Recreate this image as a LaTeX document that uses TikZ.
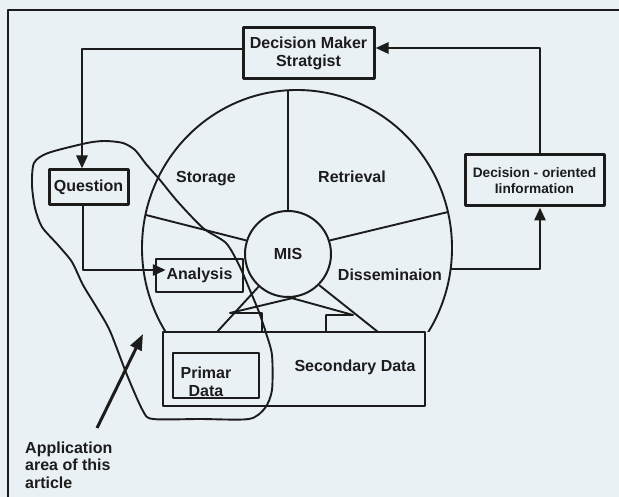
\documentclass[tikz,border=0pt]{standalone}
\usepackage{fontspec}
\setmainfont{Liberation Sans}
\usetikzlibrary{arrows.meta}
\definecolor{paper}{HTML}{EAF1F4}
\definecolor{ink}{HTML}{1C1C1C}
\begin{document}
\begin{tikzpicture}[x=1pt,y=-1pt,line join=round,
  box/.style={draw=ink,line width=3pt,font=\fontsize{16}{18}\selectfont\bfseries,text=ink,align=center,inner sep=0pt},
  plainbox/.style={draw=ink,line width=2.6pt,inner sep=0pt},
  lbl/.style={font=\fontsize{16}{18}\selectfont\bfseries,text=ink,inner sep=0pt,align=center},
  conn/.style={draw=ink,line width=2.8pt,-{Triangle[length=13pt,width=11pt]}},
  thinline/.style={draw=ink,line width=1.9pt}]
\fill[paper] (0,0) rectangle (619,497);
\useasboundingbox (0,0) rectangle (619,497);
% frame
\draw[ink,line width=2.6pt] (8,497) -- (8,10) -- (619,10);
% big circle, cut at the data box
\begin{scope}
\clip (0,0) rectangle (619,332);
\draw[thinline] (297,248) ellipse [x radius=155pt,y radius=158pt];
\end{scope}
% boxes
\node[box,minimum width=131pt,minimum height=51pt] (dm) at (308.5,53.5) {Decision Maker\\Stratgist};
\node[box,minimum width=79pt,minimum height=35pt] (q) at (88.5,187.5) {Question};
\node[box,minimum width=139pt,minimum height=51pt,font=\fontsize{13.7}{16}\selectfont\bfseries] (doi) at (534.5,180.5) {Decision - oriented\\Iinformation};
\node[box,line width=2.4pt,minimum width=87pt,minimum height=33pt] (an) at (199.5,275.5) {Analysis};
\node[draw=ink,line width=2pt,circle,minimum size=86pt,lbl] (mis) at (288,254) {MIS};
\node[plainbox,minimum width=262pt,minimum height=74pt] (sec) at (294,369) {};
\node[plainbox,minimum width=86pt,minimum height=45pt] (pri) at (216,375.5) {};
% labels
\node[lbl] (pritext) at (206,382) {Primar\\Data};
\node[lbl,anchor=base] (sectext) at (355,371) {Secondary Data};
\node[lbl,anchor=base] (storage) at (206,183) {Storage};
\node[lbl,anchor=base] (retr) at (352,183) {Retrieval};
\node[lbl,anchor=base] (dis) at (390,281) {Disseminaion};
\node[lbl,anchor=west,align=left,font=\fontsize{16}{17.5}\selectfont\bfseries] (app) at (25,465) {Application\\area of this\\article};
% spokes
\draw[thinline] (288,90) -- (mis.north);
\draw[thinline] (146,215) -- (mis.162);
\draw[thinline] (mis.18) -- (448,212);
\draw[thinline] (mis.-132) -- (217,332);
\draw[thinline] (mis.-80) -- (230,313) -- (262,313) -- (262,332);
\draw[thinline] (mis.-86) -- (353,315) -- (326,315) -- (326,332);
\draw[thinline] (mis.-45) -- (378,332);
% connectors
\draw[conn] ([yshift=4.5pt]dm.west) -| ([xshift=-6.5pt]q.north);
\draw[conn] ([xshift=5.5pt]doi.north) |- ([yshift=5.5pt]dm.east);
\draw[conn,shorten >=-11pt] ([xshift=-5.5pt]q.south) |- ([yshift=5.5pt]an.west);
\coordinate (dout) at (450,269);
\draw[conn] (dout) -| ([xshift=5.5pt]doi.south);
% application area
\draw[thinline] plot[smooth cycle,tension=0.45] coordinates {
 (143,411) (127,375) (110,331) (97,308) (83,285) (72,262) (58,245) (42,227)
 (35,208) (32,185) (34,163) (48,153) (87,143) (105,141) (123,143) (135,150)
 (146,164) (160,180) (178,202) (203,228) (226,243) (239,265) (249,288)
 (259,312) (266,333) (272,355) (272,390) (265,408) (249,419) (200,419) (153,419)};
\coordinate (apptail) at (97,428);
\coordinate (apphead) at (143,334);
\draw[ink,line width=3pt,-{Triangle[length=16pt,width=12pt]}] (apptail) -- (apphead);
\end{tikzpicture}
\end{document}
